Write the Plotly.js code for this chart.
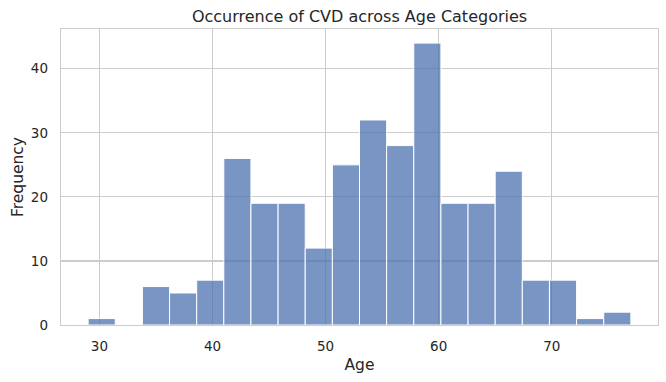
<!DOCTYPE html>
<html>
<head>
<meta charset="utf-8">
<script src="https://cdn.plot.ly/plotly-3.0.1.min.js"></script>
<style>html,body{margin:0;padding:0;background:#fff;}#chart{width:666px;height:382px;}</style>
</head>
<body>
<div id="chart"></div>
<script>
// Histogram bins (left edges) and counts
const binLeft = [29.0, 31.4, 33.8, 36.2, 38.6, 41.0, 43.4, 45.8, 48.2, 50.6, 53.0, 55.4, 57.8, 60.2, 62.6, 65.0, 67.4, 69.8, 72.2, 74.6];
const binWidth = 2.4;
const counts = [1, 0, 6, 5, 7, 26, 19, 19, 12, 25, 32, 28, 44, 19, 19, 24, 7, 7, 1, 2];
const xTicks = [30, 40, 50, 60, 70];
const yTicks = [0, 10, 20, 30, 40];

const centers = binLeft.map(v => v + binWidth / 2);

const trace = {
  type: 'bar',
  x: centers,
  y: counts,
  width: binLeft.map(() => binWidth),
  marker: {
    color: 'rgba(76,114,176,0.75)',
    line: {color: '#ffffff', width: 1}
  },
  hoverinfo: 'x+y'
};

const FAM = 'DejaVu Sans, sans-serif';
const axisFont = {family: FAM, size: 15.5, color: '#262626'};
const tickFont = {family: FAM, size: 13.5, color: '#262626'};

const layout = {
  width: 666,
  height: 382,
  margin: {l: 61, r: 8, t: 29, b: 57},
  paper_bgcolor: '#ffffff',
  plot_bgcolor: '#ffffff',
  font: {family: FAM, size: 13, color: '#262626'},
  title: {
    text: 'Occurrence of CVD across Age Categories',
    font: {family: FAM, size: 16, color: '#262626'},
    x: 0.5, xref: 'paper', xanchor: 'center', y: 0.958, yanchor: 'middle'
  },
  bargap: 0,
  showlegend: false,
  xaxis: {
    range: [26.6, 79.4],
    tickvals: xTicks,
    ticktext: xTicks.map(String),
    showgrid: true, gridcolor: '#cccccc', gridwidth: 1.2,
    zeroline: false,
    showline: true, linecolor: '#cccccc', linewidth: 1.3, mirror: true,
    ticks: '', ticklen: 0,
    ticklabelstandoff: 8,
    tickfont: tickFont,
    automargin: false,
    title: {text: 'Age', font: axisFont, standoff: 6}
  },
  yaxis: {
    range: [0, 46.2],
    tickvals: yTicks,
    ticktext: yTicks.map(String),
    showgrid: true, gridcolor: '#cccccc', gridwidth: 1.2,
    zeroline: false,
    showline: true, linecolor: '#cccccc', linewidth: 1.3, mirror: true,
    ticks: '', ticklen: 0,
    ticklabelstandoff: 9,
    tickfont: tickFont,
    automargin: false,
    title: {text: 'Frequency', font: axisFont, standoff: 3}
  }
};

Plotly.newPlot('chart', [trace], layout, {displayModeBar: false, staticPlot: true});
</script>
</body>
</html>
